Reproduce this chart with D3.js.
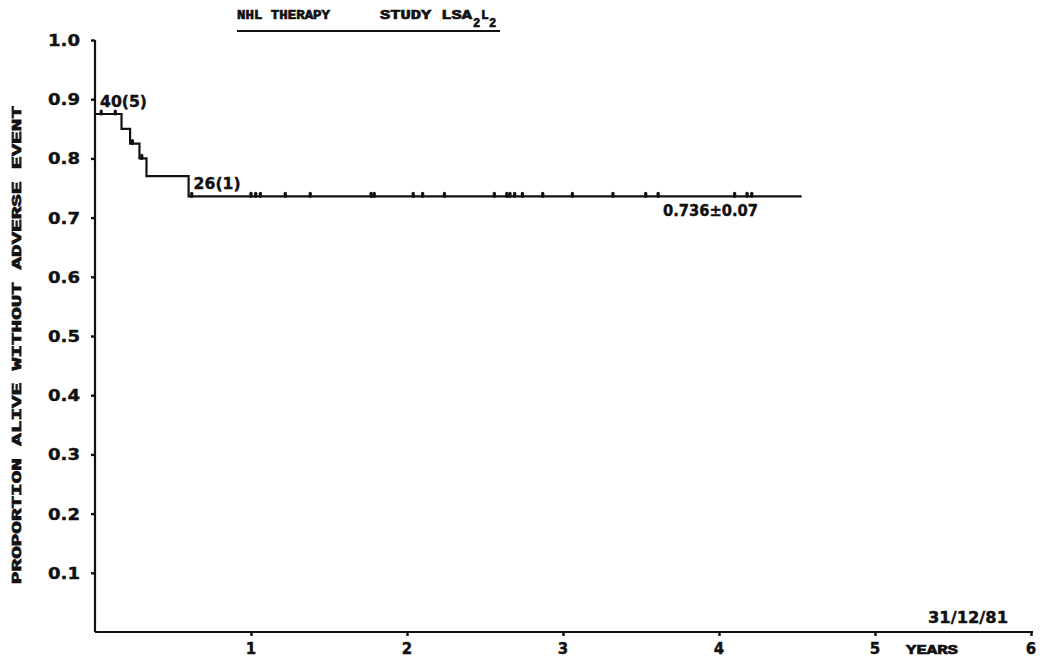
<!DOCTYPE html>
<html>
<head>
<meta charset="utf-8">
<script src="https://cdn.jsdelivr.net/npm/d3@7"></script>
<style>
  html, body { margin: 0; padding: 0; background: #fff; }
  svg { display: block; }
  .tw { font-family: "DejaVu Sans", "Liberation Sans", sans-serif; font-weight: bold; fill: #111; stroke: #111; stroke-width: 0.4; }
  .ty { font-family: "Liberation Mono", "DejaVu Sans Mono", monospace; font-weight: bold; fill: #111; stroke: #111; stroke-width: 0.7; }
</style>
</head>
<body>
<svg id="chart" width="1046" height="661"></svg>
<script>
// Event-free survival, NHL therapy study LSA2L2
const stepTimes   = [0, 0.17, 0.225, 0.285, 0.33, 0.60];   // years
const stepSurv    = [0.875, 0.85, 0.825, 0.80, 0.77, 0.736];
const lastFollowUp = 4.53;                                   // years
// censored observations (years)
const censorTimes = [0.04, 0.13, 0.24, 0.30, 0.62,
  1.00, 1.03, 1.06, 1.22, 1.38, 1.77, 1.79, 2.04, 2.10, 2.24, 2.56,
  2.64, 2.66, 2.69, 2.74, 2.87, 3.06, 3.32, 3.53, 3.61, 4.10, 4.18, 4.21];
const yTicks = [0.1, 0.2, 0.3, 0.4, 0.5, 0.6, 0.7, 0.8, 0.9, 1.0];
const yTickLabels = ["0.1", "0.2", "0.3", "0.4", "0.5", "0.6", "0.7", "0.8", "0.9", "1.0"];
const xTicks = [1, 2, 3, 4, 5, 6];
const xTickLabels = ["1", "2", "3", "4", "5", "6"];
const finalEstimate = 0.736;
const finalSE = "0.07";
const riskLabels = [
  { t: 0, text: "40(5)" },
  { t: 0.60, text: "26(1)" }
];

const svg = d3.select("#chart");
const x = d3.scaleLinear().domain([0, 6]).range([95, 1031]);
const y = d3.scaleLinear().domain([0, 1]).range([632, 40]);

// Axes
const yAxis = d3.axisLeft(y).tickValues(yTicks).tickSize(4).tickFormat("");
const xAxis = d3.axisBottom(x).tickValues(xTicks).tickSize(4).tickFormat("");

const gy = svg.append("g").attr("transform", `translate(${x(0)},0)`).call(yAxis);
const gx = svg.append("g").attr("transform", `translate(0,${y(0)})`).call(xAxis);
gy.select(".domain").attr("d", `M0,${y(1)}V${y(0)}`);
gx.select(".domain").attr("d", `M${x(0)},0H${x(6) + 2}`);
[gy, gx].forEach(g => {
  g.selectAll(".domain").attr("stroke", "#111").attr("stroke-width", 2.2);
  g.selectAll(".tick line").attr("stroke", "#111").attr("stroke-width", 2.4);
});

// Y tick labels
svg.append("g").selectAll("text").data(yTicks).join("text")
  .attr("class", "tw")
  .attr("x", 80).attr("y", d => y(d) + 6)
  .attr("text-anchor", "end")
  .attr("font-size", 16)
  .attr("textLength", 32).attr("lengthAdjust", "spacingAndGlyphs")
  .text((d, i) => yTickLabels[i]);

// X tick labels
svg.append("g").selectAll("text").data(xTicks).join("text")
  .attr("class", "tw")
  .attr("x", d => x(d)).attr("y", y(0) + 22)
  .attr("text-anchor", "middle")
  .attr("font-size", 15)
  .text((d, i) => xTickLabels[i]);

// Axis titles
svg.append("text").attr("class", "ty")
  .attr("transform", `translate(21,${(105 + 585) / 2}) rotate(-90)`)
  .attr("text-anchor", "middle")
  .attr("font-size", 13)
  .attr("textLength", 478).attr("lengthAdjust", "spacingAndGlyphs")
  .text("PROPORTION ALIVE WITHOUT ADVERSE EVENT");

svg.append("text").attr("class", "ty")
  .attr("x", 906).attr("y", y(0) + 22)
  .attr("font-size", 13)
  .attr("textLength", 52).attr("lengthAdjust", "spacingAndGlyphs")
  .text("YEARS");

svg.append("text").attr("class", "tw")
  .attr("x", 928).attr("y", y(0) - 9)
  .attr("font-size", 15)
  .attr("textLength", 80).attr("lengthAdjust", "spacingAndGlyphs")
  .text("31/12/81");

// Title with underline
const title = svg.append("g");
title.append("text").attr("class", "ty")
  .attr("x", 237).attr("y", 19).attr("font-size", 13)
  .attr("textLength", 93).attr("lengthAdjust", "spacingAndGlyphs")
  .text("NHL THERAPY");
title.append("text").attr("class", "ty")
  .attr("x", 380).attr("y", 19).attr("font-size", 13)
  .attr("textLength", 92).attr("lengthAdjust", "spacingAndGlyphs")
  .text("STUDY LSA");
title.append("text").attr("class", "ty")
  .attr("x", 473).attr("y", 27).attr("font-size", 12).text("2");
title.append("text").attr("class", "ty")
  .attr("x", 481).attr("y", 19).attr("font-size", 13).text("L");
title.append("text").attr("class", "ty")
  .attr("x", 489).attr("y", 27).attr("font-size", 12).text("2");
title.append("line")
  .attr("x1", 237).attr("x2", 500).attr("y1", 31).attr("y2", 31)
  .attr("stroke", "#111").attr("stroke-width", 2);

// Survival step curve
const pts = stepTimes.map((t, i) => [t, stepSurv[i]]);
pts.push([lastFollowUp, stepSurv[stepSurv.length - 1]]);
const line = d3.line().x(d => x(d[0])).y(d => y(d[1])).curve(d3.curveStepAfter);
svg.append("path").datum(pts)
  .attr("d", line)
  .attr("fill", "none").attr("stroke", "#111").attr("stroke-width", 2.2);

// Censor marks on the curve
const survAt = t => {
  let s = stepSurv[0];
  stepTimes.forEach((st, i) => { if (t >= st) s = stepSurv[i]; });
  return s;
};
svg.append("g").selectAll("path").data(censorTimes).join("path")
  .attr("d", t => `M${x(t)},${y(survAt(t))}v-3`)
  .attr("stroke", "#111").attr("stroke-width", 3.2).attr("stroke-linecap", "round");

// Numbers at risk (events)
svg.append("g").selectAll("text").data(riskLabels).join("text")
  .attr("class", "tw")
  .attr("x", d => x(d.t) + 5).attr("y", d => y(survAt(d.t)) - 7)
  .attr("font-size", 16)
  .attr("textLength", 47).attr("lengthAdjust", "spacingAndGlyphs")
  .text(d => d.text);

// Final estimate with standard error
svg.append("text").attr("class", "tw")
  .attr("x", 663).attr("y", y(finalEstimate) + 20)
  .attr("font-size", 15)
  .attr("textLength", 95).attr("lengthAdjust", "spacingAndGlyphs")
  .text(`${finalEstimate.toFixed(3)}±${finalSE}`);
</script>
</body>
</html>
